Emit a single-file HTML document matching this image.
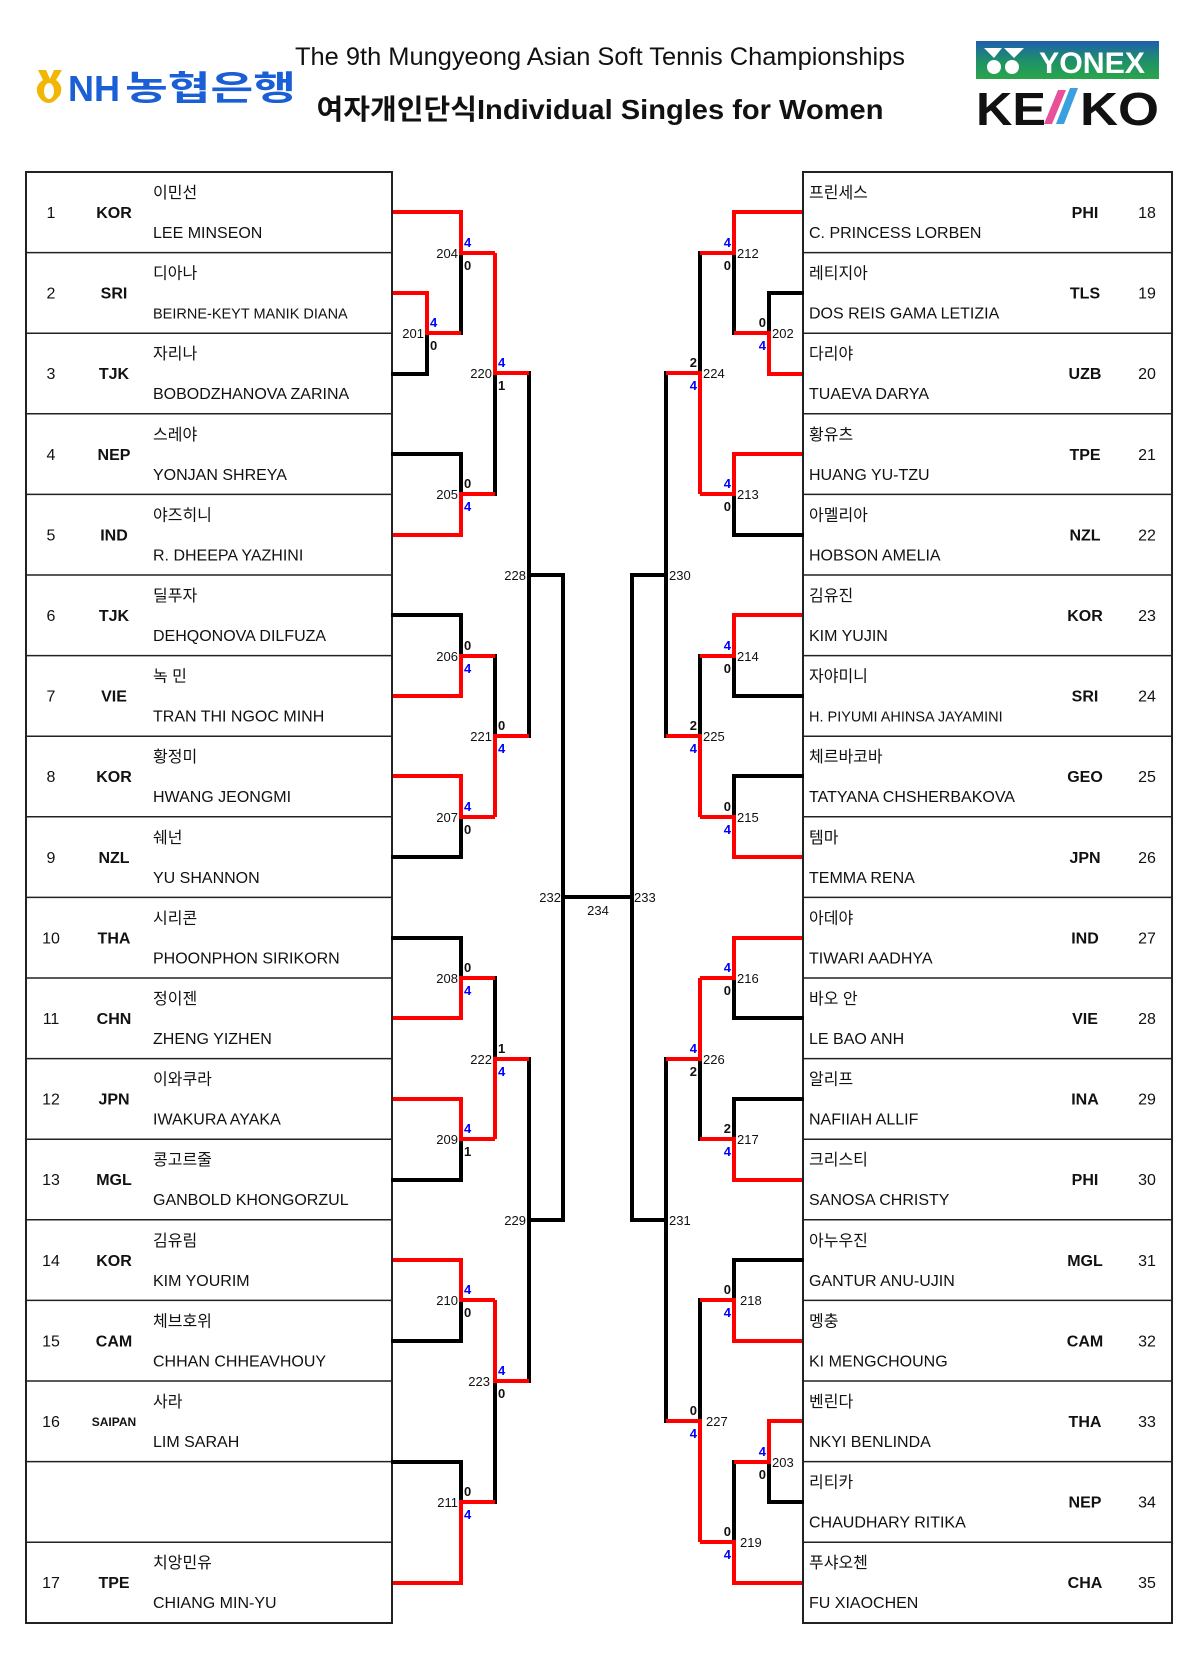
<!DOCTYPE html>
<html><head><meta charset="utf-8"><style>
html,body{margin:0;padding:0;background:#fff;}
svg{display:block;}
text{font-family:"Liberation Sans","Noto Sans CJK KR",sans-serif;}
.n{font-size:16px;fill:#111;}
.c{font-size:16px;font-weight:bold;fill:#111;}
.k{font-size:16px;fill:#111;}
.lb{font-size:13px;fill:#111;}
.s{font-size:13px;font-weight:bold;}
.b{fill:#0000ff;}
.z{fill:#111;}
</style></head><body>
<svg width="1200" height="1663" viewBox="0 0 1200 1663" xmlns="http://www.w3.org/2000/svg">
<!-- Header -->
<g>
<path d="M38 70 L46 70 L50 79 L54 70 L62 70 L56 80 Q64 86 60 95 Q54 103 49 103 Q42 103 38 95 Q34 86 43 80 Z" fill="#f2b705"/>
<ellipse cx="49" cy="91" rx="5" ry="8" fill="#fff"/>
<text x="68" y="101" font-size="36" font-weight="bold" fill="#1a5fd6" style="font-family:'Liberation Sans',sans-serif">NH</text>
<text x="125" y="100" font-size="34" font-weight="bold" fill="#1a5fd6" textLength="171" lengthAdjust="spacingAndGlyphs" style="font-family:'Noto Sans CJK KR',sans-serif">농협은행</text>
</g>
<text x="600" y="65" font-size="25" text-anchor="middle" fill="#111" textLength="610" lengthAdjust="spacingAndGlyphs">The 9th Mungyeong Asian Soft Tennis Championships</text>
<text x="600" y="119" font-size="28" font-weight="bold" text-anchor="middle" fill="#111" textLength="567" lengthAdjust="spacingAndGlyphs">여자개인단식Individual Singles for Women</text>
<defs><linearGradient id="yg" x1="0" y1="0" x2="0" y2="1"><stop offset="0" stop-color="#1e5fb0"/><stop offset="0.5" stop-color="#1e8f6a"/><stop offset="1" stop-color="#2aa54a"/></linearGradient></defs>
<rect x="976" y="41" width="183" height="38" fill="url(#yg)"/>
<circle cx="994" cy="67" r="7" fill="#fff"/><circle cx="1012" cy="67" r="7" fill="#fff"/>
<path d="M984 48 L1002 48 L994 58 Z M1004 48 L1024 48 L1014 58 Z" fill="#fff"/>
<text x="1092" y="73" font-size="30" font-weight="bold" fill="#fff" text-anchor="middle" textLength="106" lengthAdjust="spacingAndGlyphs">YONEX</text>
<text x="976" y="125" font-size="46" font-weight="bold" fill="#111" textLength="70" lengthAdjust="spacingAndGlyphs">KE</text>
<path d="M1058 90 L1066 90 L1052 124 L1044 124 Z" fill="#e8509a"/>
<path d="M1070 88 L1078 88 L1064 124 L1056 124 Z" fill="#3aa0e0"/>
<text x="1080" y="125" font-size="46" font-weight="bold" fill="#111" textLength="79" lengthAdjust="spacingAndGlyphs">KO</text>

<!-- Tables -->
<g stroke="#222" fill="none">
<rect x="26" y="172" width="366" height="1451" stroke-width="2"/>
<rect x="803" y="172" width="369" height="1451" stroke-width="2"/>
<g stroke-width="1.5">
<path d="M26 252.6H392M26 333.2H392M26 413.8H392M26 494.4H392M26 575H392M26 655.6H392M26 736.2H392M26 816.8H392M26 897.4H392M26 978H392M26 1058.6H392M26 1139.2H392M26 1219.8H392M26 1300.4H392M26 1381H392M26 1461.6H392M26 1542.2H392"/>
<path d="M803 252.6H1172M803 333.2H1172M803 413.8H1172M803 494.4H1172M803 575H1172M803 655.6H1172M803 736.2H1172M803 816.8H1172M803 897.4H1172M803 978H1172M803 1058.6H1172M803 1139.2H1172M803 1219.8H1172M803 1300.4H1172M803 1381H1172M803 1461.6H1172M803 1542.2H1172"/>
</g></g>

<!-- Left rows -->
<g transform="translate(0,172)"><text class="n" x="51" y="46" text-anchor="middle">1</text><text class="c" x="114" y="46" text-anchor="middle">KOR</text><text class="k" x="153" y="26">이민선</text><text class="k" x="153" y="66">LEE MINSEON</text></g>
<g transform="translate(0,252.6)"><text class="n" x="51" y="46" text-anchor="middle">2</text><text class="c" x="114" y="46" text-anchor="middle">SRI</text><text class="k" x="153" y="26">디아나</text><text class="k" x="153" y="66" style="font-size:14.5px">BEIRNE-KEYT MANIK DIANA</text></g>
<g transform="translate(0,333.2)"><text class="n" x="51" y="46" text-anchor="middle">3</text><text class="c" x="114" y="46" text-anchor="middle">TJK</text><text class="k" x="153" y="26">자리나</text><text class="k" x="153" y="66">BOBODZHANOVA ZARINA</text></g>
<g transform="translate(0,413.8)"><text class="n" x="51" y="46" text-anchor="middle">4</text><text class="c" x="114" y="46" text-anchor="middle">NEP</text><text class="k" x="153" y="26">스레야</text><text class="k" x="153" y="66">YONJAN SHREYA</text></g>
<g transform="translate(0,494.4)"><text class="n" x="51" y="46" text-anchor="middle">5</text><text class="c" x="114" y="46" text-anchor="middle">IND</text><text class="k" x="153" y="26">야즈히니</text><text class="k" x="153" y="66">R. DHEEPA YAZHINI</text></g>
<g transform="translate(0,575)"><text class="n" x="51" y="46" text-anchor="middle">6</text><text class="c" x="114" y="46" text-anchor="middle">TJK</text><text class="k" x="153" y="26">딜푸자</text><text class="k" x="153" y="66">DEHQONOVA DILFUZA</text></g>
<g transform="translate(0,655.6)"><text class="n" x="51" y="46" text-anchor="middle">7</text><text class="c" x="114" y="46" text-anchor="middle">VIE</text><text class="k" x="153" y="26">녹 민</text><text class="k" x="153" y="66">TRAN THI NGOC MINH</text></g>
<g transform="translate(0,736.2)"><text class="n" x="51" y="46" text-anchor="middle">8</text><text class="c" x="114" y="46" text-anchor="middle">KOR</text><text class="k" x="153" y="26">황정미</text><text class="k" x="153" y="66">HWANG JEONGMI</text></g>
<g transform="translate(0,816.8)"><text class="n" x="51" y="46" text-anchor="middle">9</text><text class="c" x="114" y="46" text-anchor="middle">NZL</text><text class="k" x="153" y="26">쉐넌</text><text class="k" x="153" y="66">YU SHANNON</text></g>
<g transform="translate(0,897.4)"><text class="n" x="51" y="46" text-anchor="middle">10</text><text class="c" x="114" y="46" text-anchor="middle">THA</text><text class="k" x="153" y="26">시리콘</text><text class="k" x="153" y="66">PHOONPHON SIRIKORN</text></g>
<g transform="translate(0,978)"><text class="n" x="51" y="46" text-anchor="middle">11</text><text class="c" x="114" y="46" text-anchor="middle">CHN</text><text class="k" x="153" y="26">정이젠</text><text class="k" x="153" y="66">ZHENG YIZHEN</text></g>
<g transform="translate(0,1058.6)"><text class="n" x="51" y="46" text-anchor="middle">12</text><text class="c" x="114" y="46" text-anchor="middle">JPN</text><text class="k" x="153" y="26">이와쿠라</text><text class="k" x="153" y="66">IWAKURA AYAKA</text></g>
<g transform="translate(0,1139.2)"><text class="n" x="51" y="46" text-anchor="middle">13</text><text class="c" x="114" y="46" text-anchor="middle">MGL</text><text class="k" x="153" y="26">콩고르줄</text><text class="k" x="153" y="66">GANBOLD KHONGORZUL</text></g>
<g transform="translate(0,1219.8)"><text class="n" x="51" y="46" text-anchor="middle">14</text><text class="c" x="114" y="46" text-anchor="middle">KOR</text><text class="k" x="153" y="26">김유림</text><text class="k" x="153" y="66">KIM YOURIM</text></g>
<g transform="translate(0,1300.4)"><text class="n" x="51" y="46" text-anchor="middle">15</text><text class="c" x="114" y="46" text-anchor="middle">CAM</text><text class="k" x="153" y="26">체브호위</text><text class="k" x="153" y="66">CHHAN CHHEAVHOUY</text></g>
<g transform="translate(0,1381)"><text class="n" x="51" y="46" text-anchor="middle">16</text><text class="c" x="114" y="45" text-anchor="middle" style="font-size:12px">SAIPAN</text><text class="k" x="153" y="26">사라</text><text class="k" x="153" y="66">LIM SARAH</text></g>
<g transform="translate(0,1542.2)"><text class="n" x="51" y="46" text-anchor="middle">17</text><text class="c" x="114" y="46" text-anchor="middle">TPE</text><text class="k" x="153" y="26">치앙민유</text><text class="k" x="153" y="66">CHIANG MIN-YU</text></g>

<!-- Right rows -->
<g transform="translate(0,172)"><text class="k" x="809" y="26">프린세스</text><text class="k" x="809" y="66">C. PRINCESS LORBEN</text><text class="c" x="1085" y="46" text-anchor="middle">PHI</text><text class="n" x="1147" y="46" text-anchor="middle">18</text></g>
<g transform="translate(0,252.6)"><text class="k" x="809" y="26">레티지아</text><text class="k" x="809" y="66">DOS REIS GAMA LETIZIA</text><text class="c" x="1085" y="46" text-anchor="middle">TLS</text><text class="n" x="1147" y="46" text-anchor="middle">19</text></g>
<g transform="translate(0,333.2)"><text class="k" x="809" y="26">다리야</text><text class="k" x="809" y="66">TUAEVA DARYA</text><text class="c" x="1085" y="46" text-anchor="middle">UZB</text><text class="n" x="1147" y="46" text-anchor="middle">20</text></g>
<g transform="translate(0,413.8)"><text class="k" x="809" y="26">황유츠</text><text class="k" x="809" y="66">HUANG YU-TZU</text><text class="c" x="1085" y="46" text-anchor="middle">TPE</text><text class="n" x="1147" y="46" text-anchor="middle">21</text></g>
<g transform="translate(0,494.4)"><text class="k" x="809" y="26">아멜리아</text><text class="k" x="809" y="66">HOBSON AMELIA</text><text class="c" x="1085" y="46" text-anchor="middle">NZL</text><text class="n" x="1147" y="46" text-anchor="middle">22</text></g>
<g transform="translate(0,575)"><text class="k" x="809" y="26">김유진</text><text class="k" x="809" y="66">KIM YUJIN</text><text class="c" x="1085" y="46" text-anchor="middle">KOR</text><text class="n" x="1147" y="46" text-anchor="middle">23</text></g>
<g transform="translate(0,655.6)"><text class="k" x="809" y="26">자야미니</text><text class="k" x="809" y="66" style="font-size:14.5px">H. PIYUMI AHINSA JAYAMINI</text><text class="c" x="1085" y="46" text-anchor="middle">SRI</text><text class="n" x="1147" y="46" text-anchor="middle">24</text></g>
<g transform="translate(0,736.2)"><text class="k" x="809" y="26">체르바코바</text><text class="k" x="809" y="66">TATYANA CHSHERBAKOVA</text><text class="c" x="1085" y="46" text-anchor="middle">GEO</text><text class="n" x="1147" y="46" text-anchor="middle">25</text></g>
<g transform="translate(0,816.8)"><text class="k" x="809" y="26">템마</text><text class="k" x="809" y="66">TEMMA RENA</text><text class="c" x="1085" y="46" text-anchor="middle">JPN</text><text class="n" x="1147" y="46" text-anchor="middle">26</text></g>
<g transform="translate(0,897.4)"><text class="k" x="809" y="26">아데야</text><text class="k" x="809" y="66">TIWARI AADHYA</text><text class="c" x="1085" y="46" text-anchor="middle">IND</text><text class="n" x="1147" y="46" text-anchor="middle">27</text></g>
<g transform="translate(0,978)"><text class="k" x="809" y="26">바오 안</text><text class="k" x="809" y="66">LE BAO ANH</text><text class="c" x="1085" y="46" text-anchor="middle">VIE</text><text class="n" x="1147" y="46" text-anchor="middle">28</text></g>
<g transform="translate(0,1058.6)"><text class="k" x="809" y="26">알리프</text><text class="k" x="809" y="66">NAFIIAH ALLIF</text><text class="c" x="1085" y="46" text-anchor="middle">INA</text><text class="n" x="1147" y="46" text-anchor="middle">29</text></g>
<g transform="translate(0,1139.2)"><text class="k" x="809" y="26">크리스티</text><text class="k" x="809" y="66">SANOSA CHRISTY</text><text class="c" x="1085" y="46" text-anchor="middle">PHI</text><text class="n" x="1147" y="46" text-anchor="middle">30</text></g>
<g transform="translate(0,1219.8)"><text class="k" x="809" y="26">아누우진</text><text class="k" x="809" y="66">GANTUR ANU-UJIN</text><text class="c" x="1085" y="46" text-anchor="middle">MGL</text><text class="n" x="1147" y="46" text-anchor="middle">31</text></g>
<g transform="translate(0,1300.4)"><text class="k" x="809" y="26">멩충</text><text class="k" x="809" y="66">KI MENGCHOUNG</text><text class="c" x="1085" y="46" text-anchor="middle">CAM</text><text class="n" x="1147" y="46" text-anchor="middle">32</text></g>
<g transform="translate(0,1381)"><text class="k" x="809" y="26">벤린다</text><text class="k" x="809" y="66">NKYI BENLINDA</text><text class="c" x="1085" y="46" text-anchor="middle">THA</text><text class="n" x="1147" y="46" text-anchor="middle">33</text></g>
<g transform="translate(0,1461.6)"><text class="k" x="809" y="26">리티카</text><text class="k" x="809" y="66">CHAUDHARY RITIKA</text><text class="c" x="1085" y="46" text-anchor="middle">NEP</text><text class="n" x="1147" y="46" text-anchor="middle">34</text></g>
<g transform="translate(0,1542.2)"><text class="k" x="809" y="26">푸샤오첸</text><text class="k" x="809" y="66">FU XIAOCHEN</text><text class="c" x="1085" y="46" text-anchor="middle">CHA</text><text class="n" x="1147" y="46" text-anchor="middle">35</text></g>

<!-- Bracket black lines -->
<g fill="none" stroke="#000" stroke-width="4" stroke-linejoin="miter" stroke-linecap="square">
<polyline points="393,374 427,374 427,333"/>
<polyline points="461,333 461,253"/>
<polyline points="393,454 461,454 461,494"/>
<polyline points="393,615 461,615 461,656"/>
<polyline points="393,857 461,857 461,817"/>
<polyline points="393,938 461,938 461,978"/>
<polyline points="393,1180 461,1180 461,1139"/>
<polyline points="393,1341 461,1341 461,1300"/>
<polyline points="393,1462 461,1462 461,1502"/>
<polyline points="495,494 495,373"/>
<polyline points="495,656 495,736"/>
<polyline points="495,978 495,1059"/>
<polyline points="495,1502 495,1381"/>
<polyline points="529,373 529,736"/>
<polyline points="529,575 563,575"/>
<polyline points="529,1059 529,1381"/>
<polyline points="529,1220 563,1220"/>
<polyline points="563,575 563,1220"/>
<polyline points="563,897 632,897"/>
<polyline points="632,575 632,1220"/>
<polyline points="632,575 666,575"/>
<polyline points="632,1220 666,1220"/>
<polyline points="666,373 666,736"/>
<polyline points="666,1059 666,1421"/>
<polyline points="700,253 700,373"/>
<polyline points="700,656 700,736"/>
<polyline points="700,1139 700,1059"/>
<polyline points="700,1300 700,1421"/>
<polyline points="734,333 734,253"/>
<polyline points="802,293 769,293 769,333"/>
<polyline points="802,535 734,535 734,494"/>
<polyline points="802,696 734,696 734,656"/>
<polyline points="802,776 734,776 734,817"/>
<polyline points="802,1018 734,1018 734,978"/>
<polyline points="802,1099 734,1099 734,1139"/>
<polyline points="802,1260 734,1260 734,1300"/>
<polyline points="802,1502 769,1502 769,1462"/>
<polyline points="734,1462 734,1542"/>
</g>
<!-- Bracket red lines -->
<g fill="none" stroke="#ff0000" stroke-width="4" stroke-linejoin="miter">
<polyline points="393,293 427,293 427,333 461,333"/>
<polyline points="393,212 461,212 461,253 495,253"/>
<polyline points="393,535 461,535 461,494 495,494"/>
<polyline points="393,696 461,696 461,656 495,656"/>
<polyline points="393,776 461,776 461,817 495,817"/>
<polyline points="393,1018 461,1018 461,978 495,978"/>
<polyline points="393,1099 461,1099 461,1139 495,1139"/>
<polyline points="393,1260 461,1260 461,1300 495,1300"/>
<polyline points="393,1583 461,1583 461,1502 495,1502"/>
<polyline points="495,253 495,373 529,373"/>
<polyline points="495,817 495,736 529,736"/>
<polyline points="495,1139 495,1059 529,1059"/>
<polyline points="495,1300 495,1381 529,1381"/>
<polyline points="700,494 700,373 666,373"/>
<polyline points="700,817 700,736 666,736"/>
<polyline points="700,978 700,1059 666,1059"/>
<polyline points="700,1542 700,1421 666,1421"/>
<polyline points="802,212 734,212 734,253 700,253"/>
<polyline points="802,374 769,374 769,333 734,333"/>
<polyline points="802,454 734,454 734,494 700,494"/>
<polyline points="802,615 734,615 734,656 700,656"/>
<polyline points="802,857 734,857 734,817 700,817"/>
<polyline points="802,938 734,938 734,978 700,978"/>
<polyline points="802,1180 734,1180 734,1139 700,1139"/>
<polyline points="802,1341 734,1341 734,1300 700,1300"/>
<polyline points="802,1421 769,1421 769,1462 734,1462"/>
<polyline points="802,1583 734,1583 734,1542 700,1542"/>
</g>

<!-- Left labels -->
<g class="lb" text-anchor="end">
<text class="lb" x="424" y="338">201</text>
<text class="lb" x="458" y="258">204</text>
<text class="lb" x="458" y="499">205</text>
<text class="lb" x="458" y="661">206</text>
<text class="lb" x="458" y="822">207</text>
<text class="lb" x="458" y="983">208</text>
<text class="lb" x="458" y="1144">209</text>
<text class="lb" x="458" y="1305">210</text>
<text class="lb" x="458" y="1507">211</text>
<text class="lb" x="492" y="378">220</text>
<text class="lb" x="492" y="741">221</text>
<text class="lb" x="492" y="1064">222</text>
<text class="lb" x="490" y="1386">223</text>
<text class="lb" x="526" y="580">228</text>
<text class="lb" x="526" y="1225">229</text>
<text class="lb" x="561" y="902">232</text>
</g>
<text class="lb" x="598" y="915" text-anchor="middle">234</text>
<g class="lb">
<text class="lb" x="634" y="902">233</text>
<text class="lb" x="669" y="580">230</text>
<text class="lb" x="669" y="1225">231</text>
<text class="lb" x="703" y="378">224</text>
<text class="lb" x="703" y="741">225</text>
<text class="lb" x="703" y="1064">226</text>
<text class="lb" x="706" y="1426">227</text>
<text class="lb" x="737" y="258">212</text>
<text class="lb" x="737" y="499">213</text>
<text class="lb" x="737" y="661">214</text>
<text class="lb" x="737" y="822">215</text>
<text class="lb" x="737" y="983">216</text>
<text class="lb" x="737" y="1144">217</text>
<text class="lb" x="740" y="1305">218</text>
<text class="lb" x="740" y="1547">219</text>
<text class="lb" x="772" y="338">202</text>
<text class="lb" x="772" y="1467">203</text>
</g>

<!-- Left scores -->
<g class="s">
<text class="s b" x="430" y="327">4</text><text class="s z" x="430" y="350">0</text>
<text class="s b" x="464" y="247">4</text><text class="s z" x="464" y="270">0</text>
<text class="s z" x="464" y="488">0</text><text class="s b" x="464" y="511">4</text>
<text class="s z" x="464" y="650">0</text><text class="s b" x="464" y="673">4</text>
<text class="s b" x="464" y="811">4</text><text class="s z" x="464" y="834">0</text>
<text class="s z" x="464" y="972">0</text><text class="s b" x="464" y="995">4</text>
<text class="s b" x="464" y="1133">4</text><text class="s z" x="464" y="1156">1</text>
<text class="s b" x="464" y="1294">4</text><text class="s z" x="464" y="1317">0</text>
<text class="s z" x="464" y="1496">0</text><text class="s b" x="464" y="1519">4</text>
<text class="s b" x="498" y="367">4</text><text class="s z" x="498" y="390">1</text>
<text class="s z" x="498" y="730">0</text><text class="s b" x="498" y="753">4</text>
<text class="s z" x="498" y="1053">1</text><text class="s b" x="498" y="1076">4</text>
<text class="s b" x="498" y="1375">4</text><text class="s z" x="498" y="1398">0</text>
</g>
<!-- Right scores -->
<g class="s" text-anchor="end">
<text class="s b" x="731" y="247">4</text><text class="s z" x="731" y="270">0</text>
<text class="s z" x="766" y="327">0</text><text class="s b" x="766" y="350">4</text>
<text class="s b" x="731" y="488">4</text><text class="s z" x="731" y="511">0</text>
<text class="s b" x="731" y="650">4</text><text class="s z" x="731" y="673">0</text>
<text class="s z" x="731" y="811">0</text><text class="s b" x="731" y="834">4</text>
<text class="s b" x="731" y="972">4</text><text class="s z" x="731" y="995">0</text>
<text class="s z" x="731" y="1133">2</text><text class="s b" x="731" y="1156">4</text>
<text class="s z" x="731" y="1294">0</text><text class="s b" x="731" y="1317">4</text>
<text class="s b" x="766" y="1456">4</text><text class="s z" x="766" y="1479">0</text>
<text class="s z" x="731" y="1536">0</text><text class="s b" x="731" y="1559">4</text>
<text class="s z" x="697" y="367">2</text><text class="s b" x="697" y="390">4</text>
<text class="s z" x="697" y="730">2</text><text class="s b" x="697" y="753">4</text>
<text class="s b" x="697" y="1053">4</text><text class="s z" x="697" y="1076">2</text>
<text class="s z" x="697" y="1415">0</text><text class="s b" x="697" y="1438">4</text>
</g>
</svg>
</body></html>
